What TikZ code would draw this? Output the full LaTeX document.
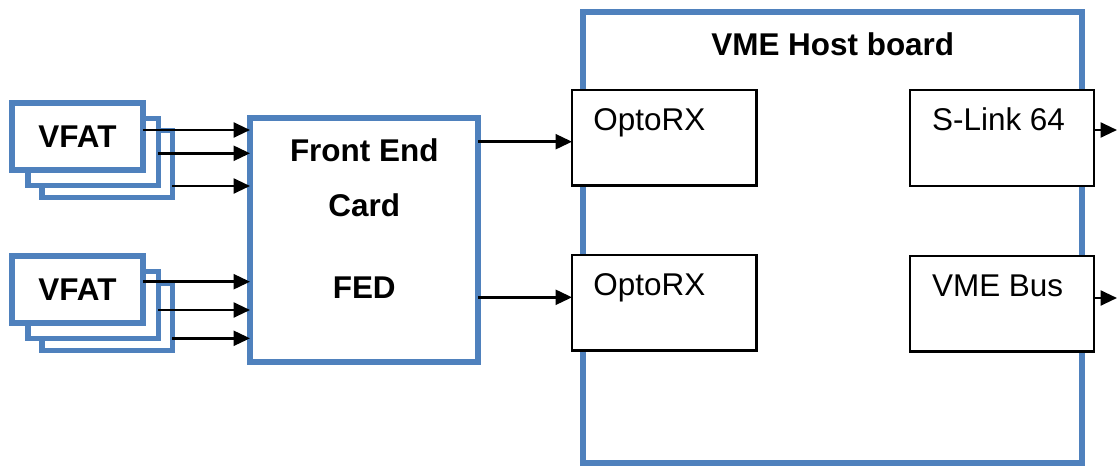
\documentclass[tikz,border=0pt]{standalone}
\usepackage{fontspec}
\setmainfont{Liberation Sans}
\usetikzlibrary{arrows.meta,positioning}
\definecolor{boardblue}{RGB}{79,129,189}
\newcommand{\diagfont}{\fontsize{17.9}{21.5}\selectfont}

\begin{document}
\begin{tikzpicture}[x=0.02cm, y=-0.02cm,
    bluebox/.style={draw=boardblue, line width=3.4pt, fill=white, outer sep=0pt, inner sep=0pt},
    vfatbox/.style={bluebox, minimum width=2.62cm, minimum height=1.34cm, font=\diagfont\bfseries},
    unitbox/.style={draw, line width=1.3pt, fill=white, outer sep=0pt, minimum width=3.69cm, minimum height=1.91cm},
    unitlabel/.style={anchor=base west, inner sep=0pt, font=\diagfont},
    boldtext/.style={inner sep=0pt, font=\diagfont\bfseries},
    sig/.style={line width=1.4pt, -{Triangle[length=0.33cm, width=0.3cm]}}]
    \useasboundingbox (0,0) rectangle (1118,466);

    % VFAT stacks, back to front
    \node[vfatbox] (vfatA3) at (107,164) {};
    \node[vfatbox] (vfatA2) at (93,152) {};
    \node[vfatbox] (vfatA1) at (77.5,136.5) {VFAT};
    \node[vfatbox] (vfatB3) at (107,317) {};
    \node[vfatbox] (vfatB2) at (93,305) {};
    \node[vfatbox] (vfatB1) at (77.5,289.5) {VFAT};

    % front end card
    \node[bluebox, minimum width=4.57cm, minimum height=4.9cm] (fec) at (364.25,240) {};
    \node[boldtext, align=center, below=0.42cm of fec.north] (fectext) {Front End\\[9.7pt]Card\\[25pt]FED};

    % host board
    \node[bluebox, minimum width=9.99cm, minimum height=9.03cm] (host) at (832.75,237.25) {};
    \node[boldtext, below=0.42cm of host.north] (hosttitle) {VME Host board};

    \node[unitbox] (opto1) at (664.25,137.75) {};
    \node[unitbox] (opto2) at (664.25,302.75) {};
    \node[unitbox] (slink) at (1002,138) {};
    \node[unitbox] (vmebus) at (1002,303.7) {};
    \node[unitlabel] at ([xshift=0.42cm, yshift=-0.8cm]opto1.north west) {OptoRX};
    \node[unitlabel] at ([xshift=0.42cm, yshift=-0.8cm]opto2.north west) {OptoRX};
    \node[unitlabel] at ([xshift=0.44cm, yshift=-0.8cm]slink.north west) {S-Link 64};
    \node[unitlabel] at ([xshift=0.44cm, yshift=-0.82cm]vmebus.north west) {VME Bus};

    \coordinate (slinkout) at (1117,130);
    \coordinate (vmeout) at (1117,298);

    % links
    \draw[sig] (vfatA1.east |- 0,130) -- (fec.west |- 0,130);
    \draw[sig] (vfatA2.east |- 0,153.3) -- (fec.west |- 0,153.3);
    \draw[sig] (vfatA3.east |- 0,186) -- (fec.west |- 0,186);
    \draw[sig] (vfatB1.east |- 0,281.7) -- (fec.west |- 0,281.7);
    \draw[sig] (vfatB2.east |- 0,310) -- (fec.west |- 0,310);
    \draw[sig] (vfatB3.east |- 0,338.3) -- (fec.west |- 0,338.3);

    \draw[sig] (fec.east |- 0,141.7) -- (opto1.west |- 0,141.7);
    \draw[sig] (fec.east |- 0,297.3) -- (opto2.west |- 0,297.3);

    \draw[sig] (slink.east |- slinkout) -- (slinkout);
    \draw[sig] (vmebus.east |- vmeout) -- (vmeout);
\end{tikzpicture}
\end{document}
